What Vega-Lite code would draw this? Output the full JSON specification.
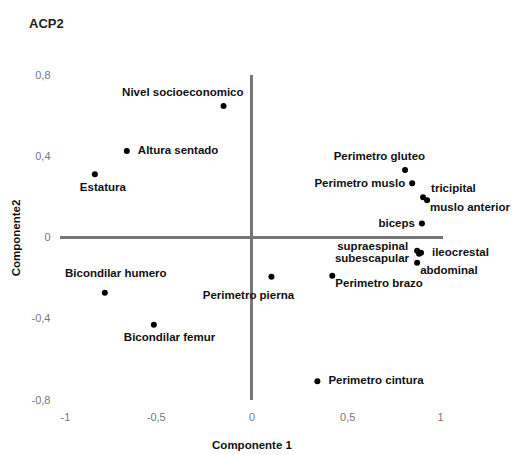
{
  "$schema": "https://vega.github.io/schema/vega-lite/v6.json",
  "width": 383,
  "height": 325,
  "autosize": {"type": "none"},
  "padding": {"left": 60, "top": 75, "right": 71, "bottom": 55},
  "background": "white",
  "title": {"text": "ACP2", "anchor": "start", "frame": "group", "dx": -31, "offset": 38, "font": "Liberation Sans", "fontSize": 13, "fontWeight": "bold", "color": "#222"},
  "config": {"view": {"stroke": null}, "font": "Liberation Sans"},
  "data": {"values": [
    {"nombre": "Nivel socioeconomico", "c1": -0.146, "c2": 0.648},
    {"nombre": "Altura sentado", "c1": -0.651, "c2": 0.426},
    {"nombre": "Estatura", "c1": -0.818, "c2": 0.312},
    {"nombre": "Perimetro gluteo", "c1": 0.802, "c2": 0.332},
    {"nombre": "Perimetro muslo", "c1": 0.839, "c2": 0.267},
    {"nombre": "tricipital", "c1": 0.896, "c2": 0.198},
    {"nombre": "muslo anterior", "c1": 0.917, "c2": 0.183},
    {"nombre": "biceps", "c1": 0.89, "c2": 0.069},
    {"nombre": "supraespinal", "c1": 0.865, "c2": -0.065},
    {"nombre": "ileocrestal", "c1": 0.885, "c2": -0.075},
    {"nombre": "subescapular", "c1": 0.875, "c2": -0.08},
    {"nombre": "abdominal", "c1": 0.865, "c2": -0.124},
    {"nombre": "Perimetro brazo", "c1": 0.422, "c2": -0.188},
    {"nombre": "Perimetro pierna", "c1": 0.104, "c2": -0.193},
    {"nombre": "Perimetro cintura", "c1": 0.344, "c2": -0.708},
    {"nombre": "Bicondilar humero", "c1": -0.766, "c2": -0.272},
    {"nombre": "Bicondilar femur", "c1": -0.51, "c2": -0.43}
  ]},
  "encoding": {
    "x": {"field": "c1", "type": "quantitative", "scale": {"domain": [-1, 1], "nice": false, "zero": false},
      "axis": {"title": "Componente 1", "values": [-1, -0.5, 0, 0.5, 1], "domain": false, "ticks": false, "grid": false,
        "labelExpr": "replace(replace(format(datum.value, '.1~f'), '.', ','), '\u2212', '-')", "labelColor": "#777", "labelFontSize": 11, "labelPadding": 11,
        "titleFontSize": 11.5, "titleFontWeight": "bold", "titleColor": "#111", "titlePadding": 17}},
    "y": {"field": "c2", "type": "quantitative", "scale": {"domain": [-0.8, 0.8], "nice": false, "zero": false},
      "axis": {"title": "Componente2", "values": [-0.8, -0.4, 0, 0.4, 0.8], "domain": false, "ticks": false, "grid": false,
        "labelExpr": "replace(replace(format(datum.value, '.1~f'), '.', ','), '\u2212', '-')", "labelColor": "#777", "labelFontSize": 11, "labelPadding": 10,
        "titleFontSize": 11.5, "titleFontWeight": "bold", "titleColor": "#111", "titlePadding": 10}}
  },
  "layer": [
    {"mark": {"type": "rule", "color": "#777", "strokeWidth": 2}, "encoding": {"y": {"datum": 0}, "x": null}},
    {"mark": {"type": "rule", "color": "#777", "strokeWidth": 2}, "encoding": {"x": {"datum": 0}, "y": null}},
    {"mark": {"type": "point", "filled": true, "color": "black", "size": 36, "opacity": 1}},
    {"transform": [{"filter": {"field": "nombre", "oneOf": ["Nivel socioeconomico", "Perimetro gluteo"]}}],
     "mark": {"type": "text", "align": "right", "baseline": "middle", "dx": 20, "dy": -13, "fontWeight": "bold", "fontSize": 11.5, "color": "#111"},
     "encoding": {"text": {"field": "nombre"}}},
    {"transform": [{"filter": {"field": "nombre", "oneOf": ["Altura sentado", "Perimetro cintura", "ileocrestal"]}}],
     "mark": {"type": "text", "align": "left", "baseline": "middle", "dx": 11, "dy": 0, "fontWeight": "bold", "fontSize": 11.5, "color": "#111"},
     "encoding": {"text": {"field": "nombre"}}},
    {"transform": [{"filter": {"field": "nombre", "equal": "tricipital"}}],
     "mark": {"type": "text", "align": "left", "baseline": "middle", "dx": 8, "dy": -8, "fontWeight": "bold", "fontSize": 11.5, "color": "#111"},
     "encoding": {"text": {"field": "nombre"}}},
    {"transform": [{"filter": {"field": "nombre", "oneOf": ["Perimetro muslo", "biceps"]}}],
     "mark": {"type": "text", "align": "right", "baseline": "middle", "dx": -7, "dy": 1, "fontWeight": "bold", "fontSize": 11.5, "color": "#111"},
     "encoding": {"text": {"field": "nombre"}}},
    {"transform": [{"filter": {"field": "nombre", "equal": "supraespinal"}}],
     "mark": {"type": "text", "align": "right", "baseline": "middle", "dx": -9, "dy": -4, "fontWeight": "bold", "fontSize": 11.5, "color": "#111"},
     "encoding": {"text": {"field": "nombre"}}},
    {"transform": [{"filter": {"field": "nombre", "equal": "subescapular"}}],
     "mark": {"type": "text", "align": "right", "baseline": "middle", "dx": -10, "dy": 5, "fontWeight": "bold", "fontSize": 11.5, "color": "#111"},
     "encoding": {"text": {"field": "nombre"}}},
    {"transform": [{"filter": {"field": "nombre", "oneOf": ["Perimetro brazo", "muslo anterior", "abdominal"]}}],
     "mark": {"type": "text", "align": "left", "baseline": "middle", "dx": 3, "dy": 8, "fontWeight": "bold", "fontSize": 11.5, "color": "#111"},
     "encoding": {"text": {"field": "nombre"}}},
    {"transform": [{"filter": {"field": "nombre", "equal": "Estatura"}}],
     "mark": {"type": "text", "align": "left", "baseline": "middle", "dx": -15, "dy": 14, "fontWeight": "bold", "fontSize": 11.5, "color": "#111"},
     "encoding": {"text": {"field": "nombre"}}},
    {"transform": [{"filter": {"field": "nombre", "equal": "Bicondilar femur"}}],
     "mark": {"type": "text", "align": "left", "baseline": "middle", "dx": -30, "dy": 13, "fontWeight": "bold", "fontSize": 11.5, "color": "#111"},
     "encoding": {"text": {"field": "nombre"}}},
    {"transform": [{"filter": {"field": "nombre", "equal": "Perimetro pierna"}}],
     "mark": {"type": "text", "align": "center", "baseline": "middle", "dx": -23, "dy": 19, "fontWeight": "bold", "fontSize": 11.5, "color": "#111"},
     "encoding": {"text": {"field": "nombre"}}},
    {"transform": [{"filter": {"field": "nombre", "equal": "Bicondilar humero"}}],
     "mark": {"type": "text", "align": "center", "baseline": "middle", "dx": 11, "dy": -19, "fontWeight": "bold", "fontSize": 11.5, "color": "#111"},
     "encoding": {"text": {"field": "nombre"}}}
  ]
}
